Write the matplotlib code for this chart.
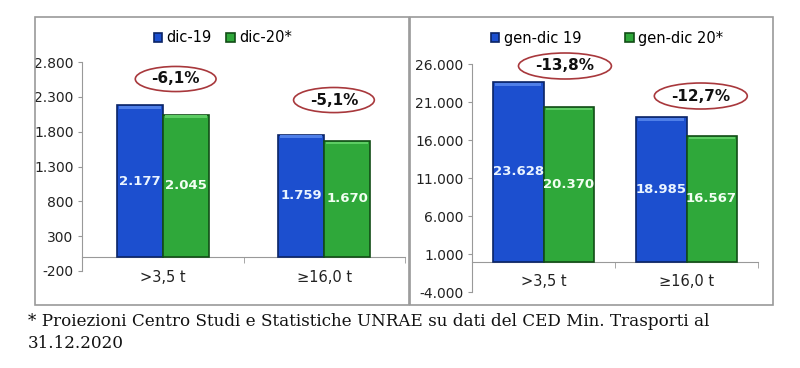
import matplotlib
matplotlib.use("Agg")
import matplotlib.pyplot as plt
from matplotlib.patches import Ellipse, Rectangle
from matplotlib.ticker import FixedLocator, FuncFormatter

categories = [">3,5 t", "≥16,0 t"]

left_series = ["dic-19", "dic-20*"]
left_v19 = [2177, 1759]
left_v20 = [2045, 1670]
left_pct = ["-6,1%", "-5,1%"]
left_ticks = [-200, 300, 800, 1300, 1800, 2300, 2800]

right_series = ["gen-dic 19", "gen-dic 20*"]
right_v19 = [23628, 18985]
right_v20 = [20370, 16567]
right_pct = ["-13,8%", "-12,7%"]
right_ticks = [-4000, 1000, 6000, 11000, 16000, 21000, 26000]

footnote = "* Proiezioni Centro Studi e Statistiche UNRAE su dati del CED Min. Trasporti al\n31.12.2020"

BLUE = "#1c4fcf"
BLUE_E = "#0b2466"
GREEN = "#2fa83a"
GREEN_E = "#124d16"

W, H = 800, 368
fig = plt.figure(figsize=(W / 100, H / 100), dpi=100)

def fx(px):
    return px / W

def fy(py):
    return 1 - py / H

# panel frames
for x0, x1 in [(35, 409), (410, 773)]:
    fig.patches.append(Rectangle((fx(x0), fy(305)), fx(x1 - x0), (305 - 17) / H,
                                 transform=fig.transFigure, fill=False,
                                 edgecolor="#9a9a9a", linewidth=1.2))

def fmt(v, pos=None):
    return f"{int(v):,}".replace(",", ".")

def panel(rect, v19, v20, ticks, pct, pct_pos, ell_w, ell_h, bw, series, leg_xy, colsp):
    ax = fig.add_axes(rect)
    x = [0, 1]
    b1 = ax.bar([i - bw / 2 for i in x], v19, width=bw, color=BLUE, edgecolor=BLUE_E, linewidth=1.2, label=series[0], zorder=3)
    b2 = ax.bar([i + bw / 2 for i in x], v20, width=bw, color=GREEN, edgecolor=GREEN_E, linewidth=1.2, label=series[1], zorder=3)
    # light top highlight to mimic the bevelled look
    span = ticks[-1] - ticks[0]
    for xs, vals, col in [([i - bw / 2 for i in x], v19, "#4f7fe8"), ([i + bw / 2 for i in x], v20, "#5ccc63")]:
        ax.bar(xs, [span * 0.012] * 2, bottom=[v - span * 0.016 for v in vals], width=bw * 0.92,
               color=col, linewidth=0, zorder=4)
    for i in x:
        ax.text(i - bw / 2, v19[i] / 2, fmt(v19[i]), ha="center", va="center",
                color="#eaf4ff", fontsize=9.5, fontweight="bold", zorder=5)
        ax.text(i + bw / 2, v20[i] / 2, fmt(v20[i]), ha="center", va="center",
                color="#f2fff2", fontsize=9.5, fontweight="bold", zorder=5)
    ax.set_xlim(-0.5, 1.5)
    ax.set_ylim(ticks[0], ticks[-1])
    ax.yaxis.set_major_locator(FixedLocator(ticks))
    ax.yaxis.set_major_formatter(FuncFormatter(fmt))
    ax.set_xticks(x)
    ax.set_xticklabels(categories)
    ax.xaxis.set_minor_locator(FixedLocator([-0.5, 0.5, 1.5]))
    ax.tick_params(axis="x", which="major", length=0, pad=9, labelsize=10.5, colors="#222222")
    ax.tick_params(axis="x", which="minor", length=4, color="#999999")
    ax.tick_params(axis="y", length=3, color="#999999", labelsize=10, labelcolor="#222222", pad=3)
    ax.spines["top"].set_visible(False)
    ax.spines["right"].set_visible(False)
    ax.spines["bottom"].set_position(("data", 0))
    ax.spines["bottom"].set_color("#999999")
    ax.spines["left"].set_color("#999999")
    ax.patch.set_alpha(0)
    for (cx, cy), t in zip(pct_pos, pct):
        ax.add_patch(Ellipse((cx, cy), ell_w, ell_h, fill=False, edgecolor="#a8383c", linewidth=1.2, zorder=6, clip_on=False))
        ax.text(cx, cy, t, ha="center", va="center", fontsize=11, fontweight="bold", color="#111111", zorder=7)
    fig.legend(handles=[b1, b2], labels=series, loc="center", bbox_to_anchor=leg_xy,
               ncol=2, frameon=False, fontsize=10.5, handlelength=0.6, handleheight=0.6,
               handletextpad=0.3, columnspacing=colsp)
    return ax

panel([fx(82), fy(271), fx(405 - 82), (271 - 62) / H], left_v19, left_v20, left_ticks,
      left_pct, [(0.08, 2556), (1.06, 2254)], 0.50, 360, 0.285, left_series,
      (fx(223), fy(38)), 1.0)

panel([fx(472), fy(292), fx(758 - 472), (292 - 64) / H], right_v19, right_v20, right_ticks,
      right_pct, [(0.15, 25737), (1.10, 21789)], 0.65, 3420, 0.35, right_series,
      (fx(607), fy(38)), 3.0)

fig.text(fx(28), fy(313), footnote, ha="left", va="top", fontsize=12.1,
         family="DejaVu Serif", linespacing=1.4, color="#111111")

fig.savefig("out.png", dpi=100)
